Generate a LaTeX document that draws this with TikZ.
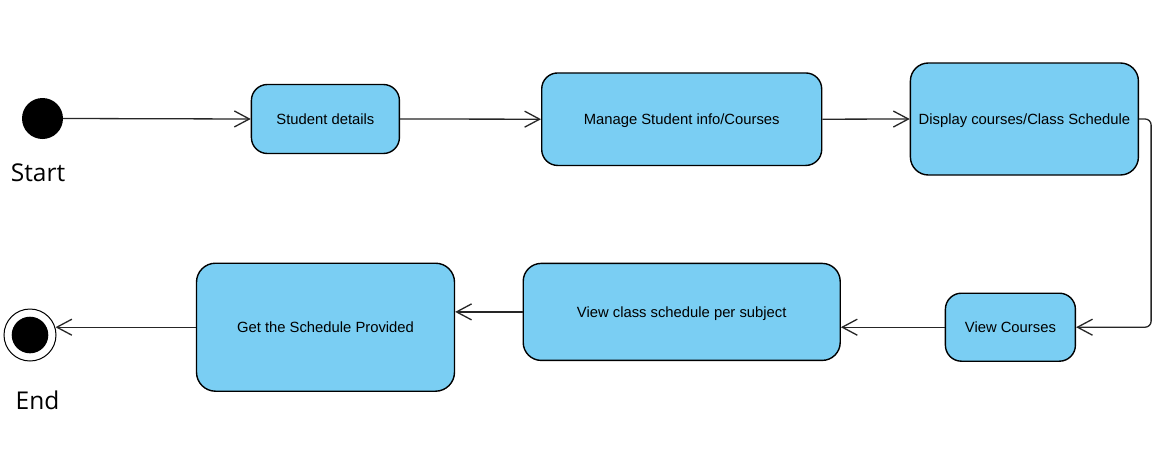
\documentclass[tikz,border=0pt]{standalone}
\usepackage{fontspec}
\setmainfont{Liberation Sans}
\newfontfamily\labelfont{Open Sans}
\usetikzlibrary{arrows.meta}
\definecolor{boxfill}{RGB}{122,206,243}
\begin{document}
\begin{tikzpicture}[x=1pt,y=-1pt,
  state/.style={draw=black, line width=1.4pt, fill=boxfill, rounded corners=16pt,
    inner sep=0pt, align=center, text height=10.6pt, text depth=0pt,
    font=\fontsize{14.8}{17}\selectfont},
  conn/.style={draw=black!85, line width=1.3pt,
    -{Straight Barb[length=15pt,width=16pt,line width=1.3pt]}},
  biglabel/.style={font=\labelfont\fontsize{24.5}{28}\selectfont, anchor=base, inner sep=0pt}
]
\useasboundingbox (0,0) rectangle (1174,471);
\fill[white] (0,0) rectangle (1174,471);

% start and end
\node[circle, fill=black, minimum size=41pt, inner sep=0pt] (start) at (42.5,118.5) {};
\node[biglabel] (startlbl) at (38,181) {Start};
\node[circle, draw=black, line width=1pt, fill=white, minimum size=52pt, inner sep=0pt] (endc) at (30,335) {};
\node[circle, fill=black, minimum size=36.6pt, inner sep=0pt] (endin) at (30,335) {};
\node[biglabel] (endlbl) at (37.5,409) {End};

% states
\node[state, minimum width=148pt, minimum height=69pt] (sd) at (325.4,119) {Student details};
\node[state, minimum width=280pt, minimum height=92.5pt] (ms) at (681.7,119.2) {Manage Student info/Courses};
\node[state, minimum width=228pt, minimum height=112pt, rounded corners=18pt] (dc) at (1024.4,119) {Display courses/Class Schedule};
\node[state, minimum width=130pt, minimum height=68pt] (vc) at (1010.4,327.2) {View Courses};
\node[state, minimum width=317pt, minimum height=97pt, rounded corners=18pt] (vs) at (681.7,311.9) {View class schedule per subject};
\node[state, minimum width=258pt, minimum height=128pt, rounded corners=19pt] (gs) at (325.5,327.2) {Get the Schedule Provided};

% connectors
\draw[conn] (start.east) -- (sd.west);
\draw[conn] (sd.east) -- (ms.west);
\draw[conn] (ms.east) -- (dc.west);
\draw[conn, rounded corners=6pt] (dc.east) -- ([xshift=12pt]dc.east) |- (vc.east);
\draw[conn] (vc.west) -- (vc.west -| vs.east);
\draw[conn] (vs.west) -- (vs.west -| gs.east);
\draw[conn] (gs.west) -- ([xshift=-1pt]gs.west -| endc.east);
\end{tikzpicture}
\end{document}
